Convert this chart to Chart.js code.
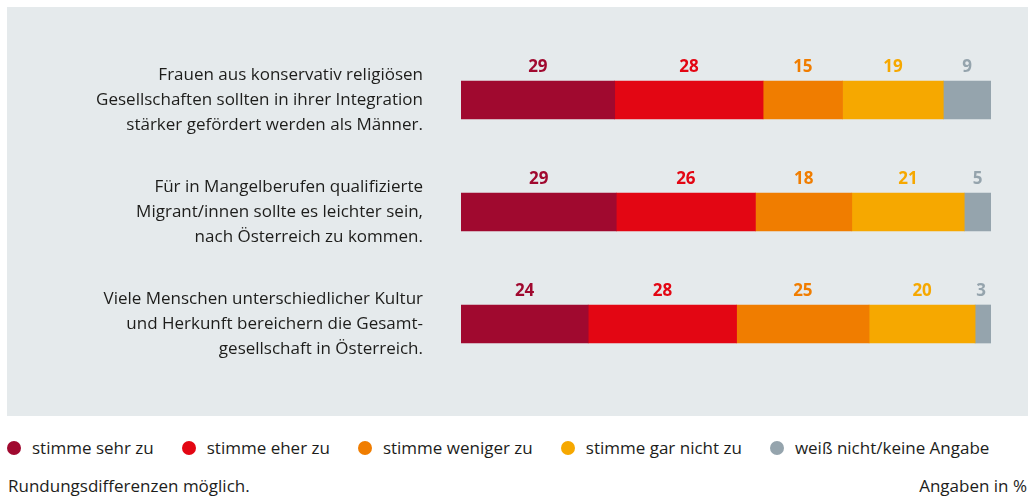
<!DOCTYPE html>
<html lang="de">
<head>
<meta charset="utf-8">
<script src="https://cdn.jsdelivr.net/npm/chart.js@4"></script>
<style>
  body { margin: 0; background: #fff; width: 1034px; height: 496px; position: relative; overflow: hidden;
         font-family: "Open Sans", sans-serif; color: #1d1d1b; }
  #panel { position: absolute; left: 7px; top: 7px; width: 1021px; height: 409px; background: #E5EAEC; }
  #legend { position: absolute; left: 7px; top: 436px; display: flex; align-items: center; font-size: 17px; }
  #legend .item { display: flex; align-items: center; margin-right: 28px; }
  #legend .dot { width: 14px; height: 14px; border-radius: 50%; margin-right: 11px; }
  .foot { position: absolute; top: 474px; font-size: 17px; }
</style>
</head>
<body>
<div id="panel"><canvas id="chart" width="1021" height="409"></canvas></div>
<div id="legend"></div>
<div class="foot" style="left:8px">Rundungsdifferenzen möglich.</div>
<div class="foot" style="right:7px">Angaben in %</div>
<script>
const categories = [
    ['Frauen aus konservativ religiösen', 'Gesellschaften sollten in ihrer Integration', 'stärker gefördert werden als Männer.'],
    ['Für in Mangelberufen qualifizierte', 'Migrant/innen sollte es leichter sein,', 'nach Österreich zu kommen.'],
    ['Viele Menschen unterschiedlicher Kultur', 'und Herkunft bereichern die Gesamt-', 'gesellschaft in Österreich.']
];
const seriesNames = ['stimme sehr zu', 'stimme eher zu', 'stimme weniger zu', 'stimme gar nicht zu', 'weiß nicht/keine Angabe'];
const sehrZu = [29, 29, 24];
const eherZu = [28, 26, 28];
const wenigerZu = [15, 18, 25];
const garNichtZu = [19, 21, 20];
const weissNicht = [9, 5, 3];
const colors = ['#A0092F', '#E30613', '#F07D00', '#F6A800', '#95A4AD'];

const series = [sehrZu, eherZu, wenigerZu, garNichtZu, weissNicht];
// each bar fills the full width (rounding differences)
const rowTotals = categories.map((_, i) => series.reduce((s, arr) => s + arr[i], 0));

const datasets = series.map((values, k) => ({
    label: seriesNames[k],
    data: values.map((v, i) => v / rowTotals[i] * 100),
    raw: values,
    backgroundColor: colors[k],
    borderWidth: 0,
    barThickness: 38
}));

const valueLabels = {
    id: 'valueLabels',
    afterDatasetsDraw(chart) {
        const ctx = chart.ctx;
        ctx.save();
        ctx.font = 'bold 17px "Open Sans", sans-serif';
        ctx.textAlign = 'center';
        ctx.textBaseline = 'middle';
        chart.data.datasets.forEach((ds, k) => {
            const meta = chart.getDatasetMeta(k);
            meta.data.forEach((bar, i) => {
                let x = (bar.x + bar.base) / 2;
                if (x > chart.chartArea.right - 10) x = chart.chartArea.right - 10;
                ctx.fillStyle = ds.backgroundColor;
                ctx.fillText(ds.raw[i], x, bar.y - 33);
            });
        });
        ctx.restore();
    }
};

new Chart(document.getElementById('chart'), {
    type: 'bar',
    data: { labels: categories, datasets: datasets },
    options: {
        indexAxis: 'y',
        responsive: false,
        animation: false,
        layout: { padding: { top: 37, bottom: 36, right: 37, left: 0 } },
        plugins: { legend: { display: false }, tooltip: { enabled: false } },
        scales: {
            x: { stacked: true, min: 0, max: 100, display: false },
            y: {
                stacked: true,
                grid: { display: false, drawTicks: false },
                border: { display: false },
                ticks: {
                    padding: 38,
                    color: '#1d1d1b',
                    font: { family: '"Open Sans", sans-serif', size: 17, lineHeight: 25 / 17 }
                },
                afterFit(scale) {
                    scale.width = 454;
                    // labels sit beside the bars, no extra room needed above/below
                    scale.paddingTop = 0;
                    scale.paddingBottom = 0;
                }
            }
        }
    },
    plugins: [valueLabels]
});

const legend = document.getElementById('legend');
seriesNames.forEach((name, k) => {
    const item = document.createElement('div');
    item.className = 'item';
    item.innerHTML = '<span class="dot" style="background:' + colors[k] + '"></span><span>' + name + '</span>';
    legend.appendChild(item);
});
</script>
</body>
</html>
